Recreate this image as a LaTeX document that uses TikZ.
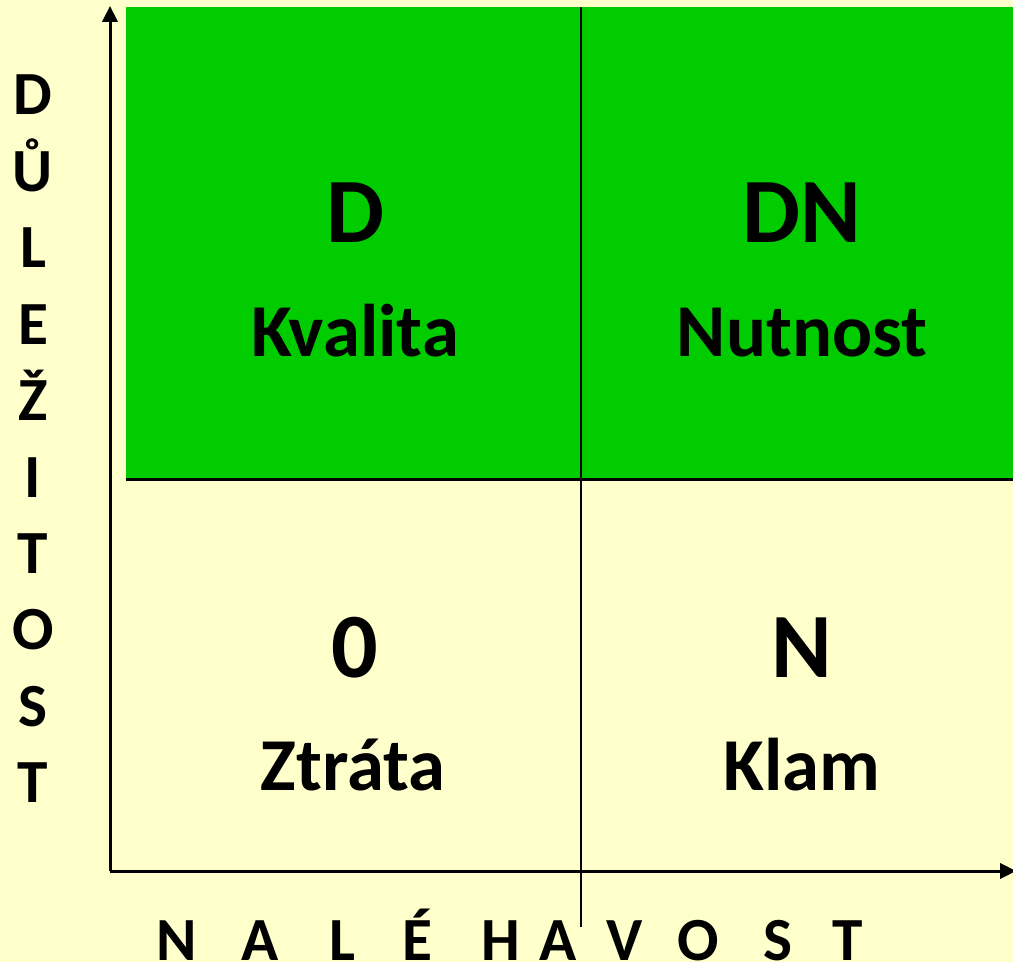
\documentclass[tikz,border=0pt]{standalone}
\usepackage{fontspec}
\setmainfont{Carlito}
\usetikzlibrary{arrows.meta}
\definecolor{cream}{HTML}{FFFFCC}
\definecolor{quadgreen}{HTML}{00CC00}
\tikzset{
  axis/.style={line width=2.25pt, -{Triangle[width=11.5pt,length=12pt]}},
  divider/.style={line width=2.25pt},
  bigmark/.style={anchor=base, inner sep=0pt, font=\bfseries\fontsize{69}{80}\selectfont},
  quadname/.style={anchor=base, inner sep=0pt, font=\bfseries\fontsize{56}{64}\selectfont},
  axisletter/.style={anchor=base, inner sep=0pt, font=\bfseries\fontsize{46}{55}\selectfont},
}
\begin{document}
\begin{tikzpicture}[x=0.75pt, y=-0.75pt]
  % page and background
  \fill[cream] (0,0) rectangle (1013,962);
  \useasboundingbox (0,0) rectangle (1013,962);

  % upper (important) half
  \fill[quadgreen] (126,7) rectangle (1013,479);

  % quadrant dividers
  \coordinate (hl) at (126,479);
  \coordinate (hr) at (1013,479);
  \coordinate (vt) at (581,7);
  \coordinate (vb) at (581,927);
  \draw[divider] (hl) -- (hr);
  \draw[line width=1.5pt] (vt) -- (vb);

  % axes
  \coordinate (origin) at (110,871);
  \coordinate (ytip) at (110,6);
  \coordinate (xtip) at (1016,871);
  \draw[axis] (origin) -- (ytip);
  \draw[axis] (origin) -- (xtip);

  % quadrant labels
  \node[bigmark] (d) at (355,243) {D};
  \node[quadname] (kvalita) at (355,357) {Kvalita};
  \node[bigmark] (dn) at (802,243) {DN};
  \node[quadname] (nutnost) at (802,357) {Nutnost};
  \node[bigmark] (zero) at (355,677) {0};
  \node[quadname] (ztrata) at (353,790) {Ztráta};
  \node[bigmark] (n) at (802,677) {N};
  \node[quadname] (klam) at (802,790) {Klam};

  % vertical axis title
  \foreach \ch [count=\i] in {D,Ů,L,E,Ž,I,T,O,S,T}
    \node[axisletter] (yl\i) at (33,{115+76.4*(\i-1)}) {\ch};

  % horizontal axis title
  \foreach \xx/\ch [count=\i] in {177/N,260/A,342/L,417/É,501/H,558/A,625/V,698/O,778/S,848/T}
    \node[axisletter] (xl\i) at (\xx,960) {\ch};
\end{tikzpicture}
\end{document}
